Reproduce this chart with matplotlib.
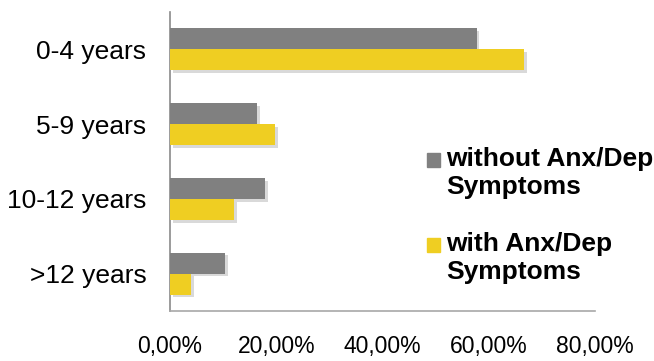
import matplotlib
matplotlib.use("Agg")
import matplotlib.pyplot as plt
import matplotlib.patheffects as pe
from matplotlib.patches import Rectangle
import numpy as np

plt.rcParams['font.family'] = ['Liberation Sans', 'DejaVu Sans']

categories = ["0-4 years", "5-9 years", "10-12 years", ">12 years"]
without_sym = [57.7, 16.4, 17.9, 10.4]
with_sym = [66.6, 19.8, 12.0, 4.0]
series_labels = ["without Anx/Dep\nSymptoms", "with Anx/Dep\nSymptoms"]
xticks = [0, 20, 40, 60, 80]
xtick_labels = ["0,00%", "20,00%", "40,00%", "60,00%", "80,00%"]

gray = "#808080"
yellow = "#EFCE22"

fig = plt.figure(figsize=(6.54, 3.61), dpi=100)
ax = fig.add_axes([0.26, 0.1385, 0.6498, 0.8283])

y = np.arange(len(categories))
h = 0.28
shadow = [pe.SimplePatchShadow(offset=(2, -2), shadow_rgbFace="#000000", alpha=0.15), pe.Normal()]
b1 = ax.barh(y - h / 2, without_sym, height=h, color=gray, zorder=3)
b2 = ax.barh(y + h / 2, with_sym, height=h, color=yellow, zorder=3)
for bar in list(b1) + list(b2):
    bar.set_path_effects(shadow)

ax.set_xlim(0, 80)
ax.set_ylim(len(categories) - 0.5, -0.5)
ax.set_yticks(y)
ax.set_yticklabels(categories, fontsize=19)
ax.set_xticks(xticks)
ax.set_xticklabels(xtick_labels, fontsize=16.5)
ax.tick_params(axis="y", length=0, pad=17)
ax.tick_params(axis="x", length=0, pad=17)

for s in ["top", "right"]:
    ax.spines[s].set_visible(False)
ax.spines["left"].set_color("#8a8a8a")
ax.spines["bottom"].set_color("#a8a8a8")
ax.spines["left"].set_linewidth(1.2)
ax.spines["bottom"].set_linewidth(1.2)

# legend drawn as square swatches with two-line bold labels
W, H = 654, 361
for (color, label, ytop) in [(gray, series_labels[0], 153), (yellow, series_labels[1], 238)]:
    fig.patches.append(Rectangle((427 / W, 1 - (ytop + 14) / H), 13 / W, 14 / H,
                                 transform=fig.transFigure, color=color))
    fig.text(446 / W, 1 - (ytop - 6) / H, label, fontsize=19, fontweight="bold",
             va="top", ha="left", linespacing=1.2)

fig.savefig("out.png", dpi=100)
